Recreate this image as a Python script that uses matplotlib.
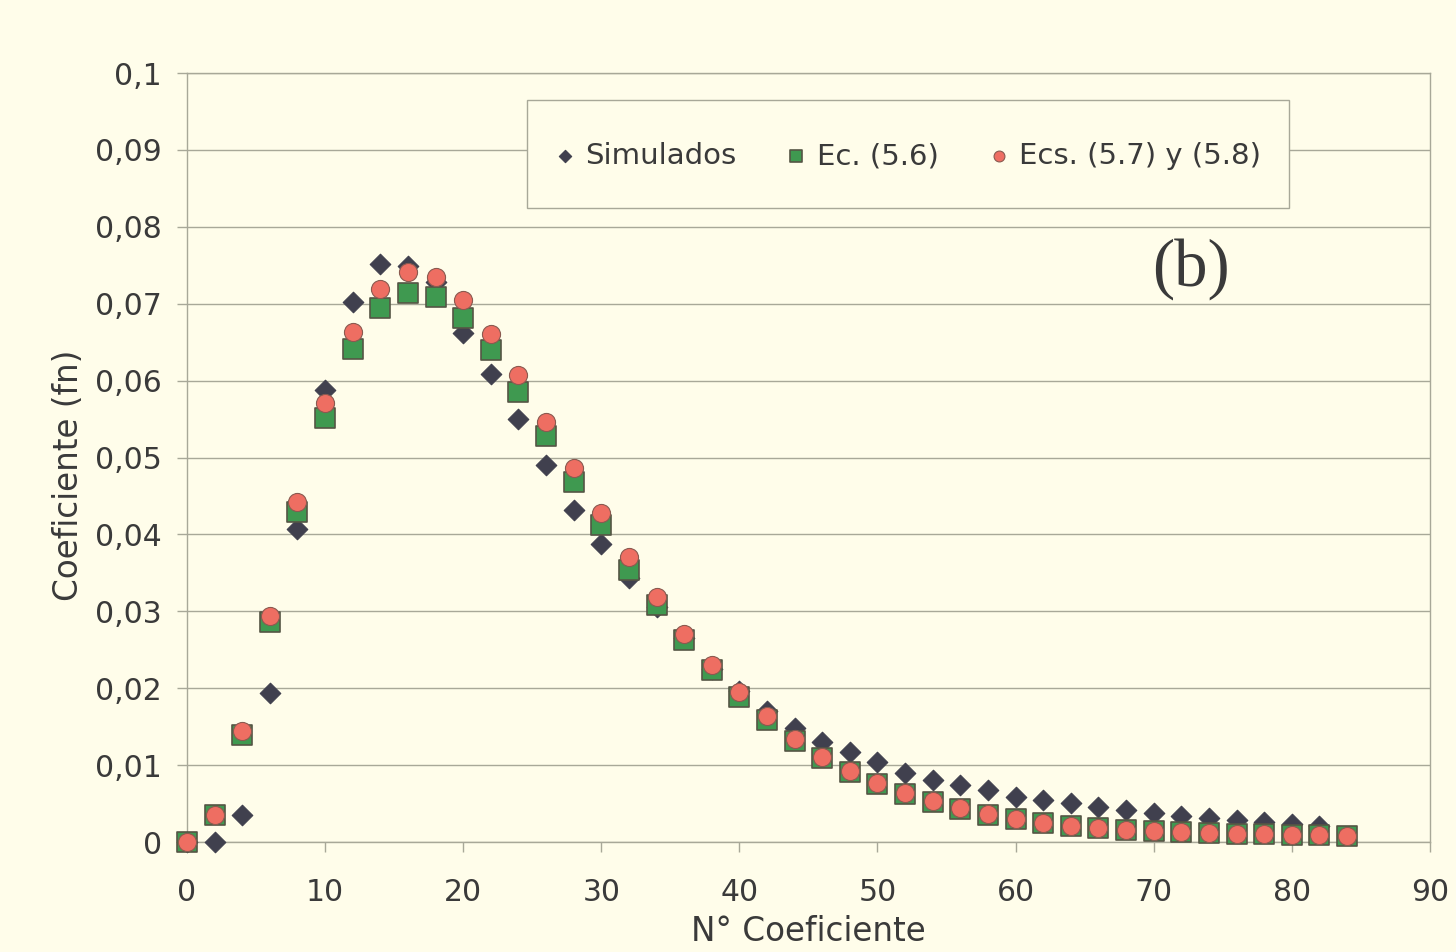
import matplotlib
matplotlib.use("Agg")
import matplotlib.pyplot as plt
from matplotlib.patches import Rectangle
from matplotlib.ticker import FuncFormatter, MultipleLocator

x_sim = [0, 2, 4, 6, 8, 10, 12, 14, 16, 18, 20, 22, 24, 26, 28, 30, 32, 34, 36, 38, 40,
         42, 44, 46, 48, 50, 52, 54, 56, 58, 60, 62, 64, 66, 68, 70, 72, 74, 76, 78, 80, 82]
simulados = [0.0, 0.0, 0.0035, 0.0194, 0.0407, 0.0588, 0.0702, 0.0752, 0.0749, 0.0728,
             0.0662, 0.0609, 0.0550, 0.0490, 0.0432, 0.0388, 0.0343, 0.0306, 0.0265, 0.0225,
             0.0196, 0.0170, 0.0148, 0.0130, 0.0117, 0.0104, 0.0090, 0.0081, 0.0074, 0.0068,
             0.0059, 0.0055, 0.0051, 0.0046, 0.0042, 0.0038, 0.0034, 0.0031, 0.0029, 0.0026,
             0.0023, 0.0021]

x_ec = [0, 2, 4, 6, 8, 10, 12, 14, 16, 18, 20, 22, 24, 26, 28, 30, 32, 34, 36, 38, 40,
        42, 44, 46, 48, 50, 52, 54, 56, 58, 60, 62, 64, 66, 68, 70, 72, 74, 76, 78, 80, 82, 84]
ec56 = [0.0, 0.0035, 0.0139, 0.0286, 0.0429, 0.0551, 0.0641, 0.0694, 0.0714, 0.0709,
        0.0681, 0.0640, 0.0585, 0.0528, 0.0468, 0.0412, 0.0354, 0.0308, 0.0263, 0.0224,
        0.0189, 0.0159, 0.0131, 0.0109, 0.0091, 0.0075, 0.0062, 0.0052, 0.0043, 0.0035,
        0.0030, 0.0025, 0.0021, 0.0018, 0.0016, 0.0014, 0.0013, 0.0012, 0.0011, 0.0010,
        0.0009, 0.0009, 0.0008]
ecs578 = [0.0, 0.0035, 0.0144, 0.0294, 0.0442, 0.0571, 0.0663, 0.0719, 0.0741, 0.0735,
          0.0705, 0.0661, 0.0607, 0.0546, 0.0486, 0.0428, 0.0371, 0.0319, 0.0270, 0.0230,
          0.0195, 0.0164, 0.0134, 0.0111, 0.0092, 0.0077, 0.0064, 0.0053, 0.0044, 0.0036,
          0.0030, 0.0025, 0.0021, 0.0018, 0.0016, 0.0014, 0.0013, 0.0012, 0.0011, 0.0010,
          0.0009, 0.0009, 0.0008]

bg = "#fffdea"
txt = "#3a3a3a"
grid_c = "#a8a898"
plt.rcParams['font.family'] = ['DejaVu Sans']

fig = plt.figure(figsize=(14.56, 9.52), dpi=100, facecolor=bg)
ax = fig.add_axes([0.1284, 0.1155, 0.8537, 0.8078], facecolor=bg)

ax.scatter(x_sim, simulados, marker='D', s=110, color='#40404e', edgecolors='#40404e',
           linewidths=0.8, zorder=3, label='Simulados', clip_on=False)
ax.scatter(x_ec, ec56, marker='s', s=190, color='#3f9950', edgecolors='#555545',
           linewidths=1.2, zorder=4, label='Ec. (5.6)', clip_on=False)
ax.scatter(x_ec, ecs578, marker='o', s=170, color='#ee6e62', edgecolors='#8a5a50',
           linewidths=0.8, zorder=5, label='Ecs. (5.7) y (5.8)', clip_on=False)

ax.set_xlim(0, 90)
ax.set_ylim(0, 0.1)
ax.xaxis.set_major_locator(MultipleLocator(10))
ax.yaxis.set_major_locator(MultipleLocator(0.01))
ax.yaxis.set_major_formatter(FuncFormatter(
    lambda v, p: "0" if abs(v) < 1e-9 else ("%.2f" % v).rstrip('0').replace('.', ',')))
ax.grid(axis='y', color=grid_c, linewidth=1.0)
ax.set_axisbelow(True)
for s in ax.spines.values():
    s.set_color(grid_c)
    s.set_linewidth(1.0)
ax.tick_params(axis='both', colors=grid_c, labelcolor=txt, labelsize=21.5, length=7,
               width=1.0)
ax.tick_params(axis='x', pad=19)
ax.tick_params(axis='y', pad=11)

ax.set_xlabel("N° Coeficiente", fontsize=23.5, color=txt, labelpad=6)
ax.set_ylabel("Coeficiente (fn)", fontsize=23.5, color=txt, labelpad=8)
ax.yaxis.set_label_coords(-0.082, 0.477)

ax.text(72.7, 0.0745, "(b)", fontsize=48, family='Liberation Serif', color='#3a3a3a',
        ha='center', va='center')

# legend frame
W, H = 1456.0, 952.0
frame = Rectangle((527 / W, 1 - 208 / H), (1289 - 527) / W, 108 / H,
                  transform=fig.transFigure, facecolor=bg, edgecolor=grid_c,
                  linewidth=1.0, zorder=6)
ax.add_artist(frame)
frame.set_clip_on(False)

leg = ax.legend(loc='center left', bbox_to_anchor=(547.5 / W, 1 - 156 / H),
                bbox_transform=fig.transFigure, ncol=3, fontsize=21,
                frameon=False, handletextpad=0.1, handlelength=1.2, columnspacing=1.45,
                borderpad=0.0, borderaxespad=0.0, markerscale=0.6)
leg.set_zorder(7)
for t in leg.get_texts():
    t.set_color(txt)

fig.savefig("out.png", dpi=100, facecolor=bg)
